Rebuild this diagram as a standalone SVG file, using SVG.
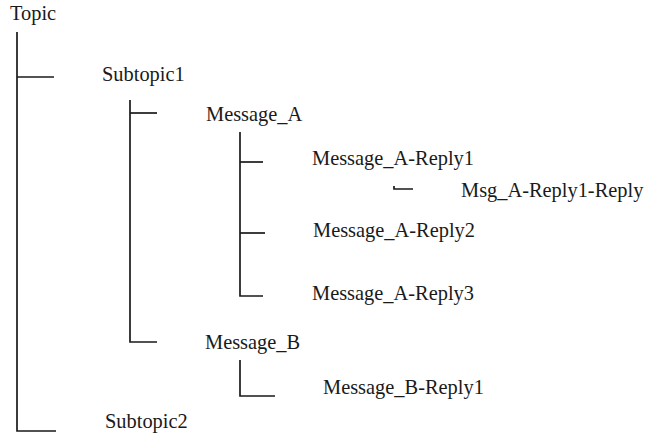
<svg xmlns="http://www.w3.org/2000/svg" width="650" height="436" viewBox="0 0 650 436">
  <style>
    .tree { fill: none; stroke: #1a1a1a; stroke-width: 1.7; stroke-linecap: butt; stroke-linejoin: miter; }
    .lbl { font-family: 'Liberation Serif', 'DejaVu Serif', serif; font-size: 20.4px; fill: #1a1a1a; }
  </style>
  <rect width="650" height="436" fill="#ffffff"/>

  <!-- tree connectors -->
  <g id="connectors" class="tree">
    <!-- Topic branch -->
    <path d="M17 32 V431 H56"/>
    <path d="M17 77 H54"/>
    <!-- Subtopic1 branch -->
    <path d="M130 100 V342 H157"/>
    <path d="M130 113 H157"/>
    <!-- Message_A branch -->
    <path d="M240 132 V296 H263"/>
    <path d="M240 162 H263"/>
    <path d="M240 233 H265"/>
    <!-- Message_A-Reply1 branch -->
    <path d="M394 186 V189 H413"/>
    <!-- Message_B branch -->
    <path d="M240 360 V396 H275"/>
  </g>

  <g id="topic"><text class="lbl" x="10" y="20">Topic</text></g>
  <g id="subtopic1"><text class="lbl" x="102" y="81">Subtopic1</text></g>
  <g id="message-a"><text class="lbl" x="206" y="121">Message_A</text></g>
  <g id="message-a-reply1"><text class="lbl" x="312" y="165">Message_A-Reply1</text></g>
  <g id="msg-a-reply1-reply"><text class="lbl" x="461" y="197">Msg_A-Reply1-Reply</text></g>
  <g id="message-a-reply2"><text class="lbl" x="313" y="237">Message_A-Reply2</text></g>
  <g id="message-a-reply3"><text class="lbl" x="312" y="300">Message_A-Reply3</text></g>
  <g id="message-b"><text class="lbl" x="205" y="349">Message_B</text></g>
  <g id="message-b-reply1"><text class="lbl" x="323" y="394">Message_B-Reply1</text></g>
  <g id="subtopic2"><text class="lbl" x="105" y="428">Subtopic2</text></g>
</svg>
